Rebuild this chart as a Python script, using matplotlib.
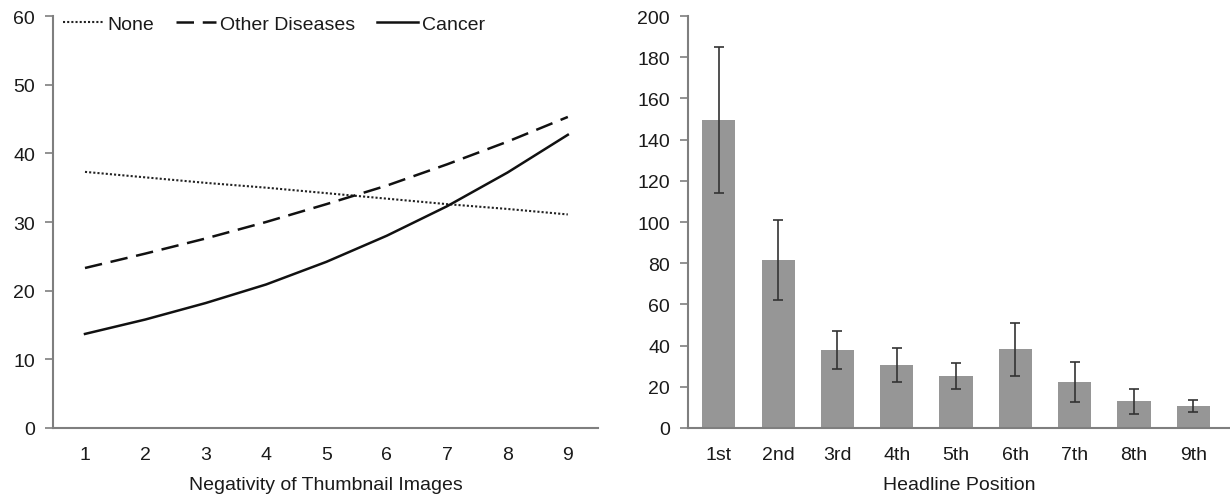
import numpy as np
import matplotlib
matplotlib.use("Agg")
import matplotlib.pyplot as plt

plt.rcParams["font.family"] = ["Liberation Sans", "DejaVu Sans"]

# Left panel: predicted values by negativity of thumbnail images
negativity = [1, 2, 3, 4, 5, 6, 7, 8, 9]
none_vals = [37.3, 36.5, 35.7, 35.0, 34.2, 33.4, 32.6, 31.9, 31.1]
other_vals = [23.3, 25.4, 27.6, 30.0, 32.6, 35.3, 38.4, 41.7, 45.3]
cancer_vals = [13.7, 15.8, 18.2, 20.9, 24.2, 28.0, 32.3, 37.2, 42.7]

# Right panel: headline position
positions = ["1st", "2nd", "3rd", "4th", "5th", "6th", "7th", "8th", "9th"]
bar_vals = [149.5, 81.5, 37.8, 30.5, 25.2, 38.2, 22.2, 13.0, 10.6]
bar_err = [35.3, 19.3, 9.2, 8.1, 6.3, 12.9, 9.8, 6.1, 2.9]

FS = 14
SPINE = "#7f7f7f"
TXT = "#1a1a1a"

fig = plt.figure(figsize=(12.3, 5.02), dpi=100)
ax1 = fig.add_axes([53/1230, 1-429/502, (598-53)/1230, (429-17)/502])
ax2 = fig.add_axes([688/1230, 1-429/502, (1230-688)/1230, (429-17)/502])

# ── Left: lines ──
ax1.plot(negativity, none_vals, color="#222222", lw=1.5, linestyle=(0, (1, 1)), label="None")
ax1.plot(negativity, other_vals, color="#111111", lw=1.8, linestyle=(0, (7, 3.5)), label="Other Diseases")
ax1.plot(negativity, cancer_vals, color="#111111", lw=1.8, linestyle="-", label="Cancer")
ax1.set_xlim(0.47, 9.5)
ax1.set_ylim(0, 60)
ax1.set_xticks(negativity)
ax1.set_yticks(range(0, 61, 10))
ax1.set_xlabel("Negativity of Thumbnail Images", fontsize=FS, color=TXT, labelpad=9)
ax1.legend(loc="upper center", bbox_to_anchor=(0.405, 1.045), ncol=3, frameon=False,
           fontsize=FS, handlelength=2.1, handletextpad=0.2, columnspacing=1.1,
           labelcolor=TXT)

# ── Right: bars ──
xpos = np.arange(1, len(positions) + 1)
ax2.bar(xpos, bar_vals, width=0.56, color="#969696", edgecolor="none")
ax2.errorbar(xpos, bar_vals, yerr=bar_err, fmt="none", ecolor="#333333",
             elinewidth=1.2, capsize=3.5, capthick=1.2)
ax2.set_xlim(0.48, 9.62)
ax2.set_ylim(0, 200)
ax2.set_xticks(xpos)
ax2.set_xticklabels(positions)
ax2.set_yticks(range(0, 201, 20))
ax2.set_xlabel("Headline Position", fontsize=FS, color=TXT, labelpad=9)

for ax in (ax1, ax2):
    for s in ("top", "right"):
        ax.spines[s].set_visible(False)
    for s in ("left", "bottom"):
        ax.spines[s].set_color(SPINE)
        ax.spines[s].set_linewidth(1.5)
    ax.tick_params(axis="y", length=6, width=1.2, color=SPINE, labelsize=FS,
                   labelcolor=TXT, pad=7)
    ax.tick_params(axis="x", length=0, labelsize=FS, labelcolor=TXT, pad=13)

fig.savefig("out.png", dpi=100)
